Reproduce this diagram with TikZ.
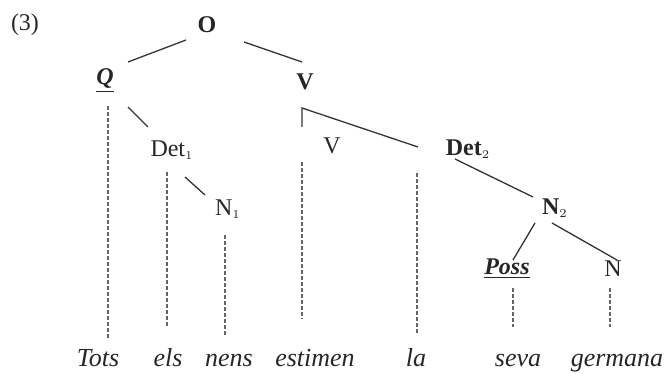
\documentclass[tikz,border=0pt]{standalone}
\usepackage{fontspec}
\setmainfont{Liberation Serif}
\usepackage{tikz}

\begin{document}
\begin{tikzpicture}[x=0.5pt,y=-0.5pt,
    cat/.style={inner sep=1pt, text=black!85, font=\fontsize{12}{14}\selectfont},
    word/.style={anchor=base, inner sep=0pt, text=black!85, font=\fontsize{13}{15}\selectfont\itshape},
    branch/.style={line width=0.65pt, black!80},
    proj/.style={line width=0.7pt, black!60, dash pattern=on 2pt off 1pt}]

    \useasboundingbox (0,0) rectangle (666,374);

    % Example number
    \node[cat] (num) at (25,25) {(3)};

    % Tree labels
    \node[cat] (O) at (207,25) {\textbf{O}};
    \node[cat] (Q) at (105,81) {\underline{\textbf{\textit{Q}}}};
    \node[cat] (V) at (305,82) {\textbf{V}};
    \node[cat] (Det1) at (172,150) {Det$_{\scriptscriptstyle 1}$};
    \node[cat] (N1) at (228,209) {N$_{\scriptscriptstyle 1}$};
    \node[cat] (Vc) at (332,146) {V};
    \node[cat] (Det2) at (468,149) {\textbf{Det}$_{\scriptscriptstyle 2}$};
    \node[cat] (N2) at (555,208) {\textbf{N}$_{\scriptscriptstyle 2}$};
    \node[cat] (Poss) at (507,269) {\underline{\textbf{\textit{Poss}}}};
    \node[cat] (N) at (613,269) {N};

    % Words
    \node[word] (Tots) at (98,367) {Tots};
    \node[word] (els) at (168,367) {els};
    \node[word] (nens) at (229,367) {nens};
    \node[word] (estimen) at (315,367) {estimen};
    \node[word] (la) at (416,367) {la};
    \node[word] (seva) at (518,367) {seva};
    \node[word] (germana) at (617,367) {germana};

    % Branches
    \draw[branch] ([shift={(-21,15)}]O.center) -- ([shift={(23,-19)}]Q.center);
    \draw[branch] ([shift={(37,17)}]O.center) -- ([shift={(-3,-20)}]V.center);
    \draw[branch] ([shift={(23,26)}]Q.center) -- ([shift={(-24,-23)}]Det1.center);
    \draw[branch] ([shift={(13,27)}]Det1.center) -- ([shift={(-23,-14)}]N1.center);
    \draw[branch] ([shift={(-3,45)}]V.center) -- ([shift={(-3,26)}]V.center)
        -- ([shift={(-50,-2)}]Det2.center);
    \draw[branch] ([shift={(-13,10)}]Det2.center) -- ([shift={(-22,-11)}]N2.center);
    \draw[branch] ([shift={(-20,15)}]N2.center) -- ([shift={(6,-9)}]Poss.center);
    \draw[branch] ([shift={(-3,15)}]N2.center) -- ([shift={(4,-9)}]N.center);

    % Dashed lines down to the words
    \coordinate (tq) at ([shift={(3,25)}]Q.center);
    \coordinate (tdet1) at ([shift={(-5,22)}]Det1.center);
    \coordinate (tn1) at ([shift={(-3,26)}]N1.center);
    \coordinate (tv) at ([shift={(-30,16)}]Vc.center);
    \coordinate (tdet2) at ([shift={(-51,24)}]Det2.center);
    \coordinate (tposs) at ([shift={(6,19)}]Poss.center);
    \coordinate (tn) at ([shift={(-3,19)}]N.center);
    \foreach \t/\w/\s in {tq/Tots/11, tdet1/els/22, tn1/nens/19, tv/estimen/31,
                          tdet2/la/14, tposs/seva/27, tn/germana/27}
        \draw[proj, shorten >=\s*0.5pt] (\t) -- (\t |- \w.north);

\end{tikzpicture}
\end{document}
